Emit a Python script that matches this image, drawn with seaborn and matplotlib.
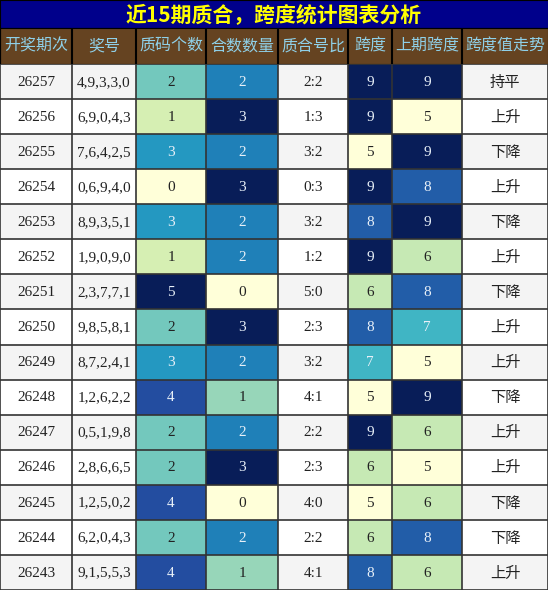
import numpy as np
import pandas as pd
import matplotlib
matplotlib.use("Agg")
import matplotlib.pyplot as plt
import seaborn as sns

# data
title = "近15期质合，跨度统计图表分析"
headers = ["开奖期次", "奖号", "质码个数", "合数数量", "质合号比", "跨度", "上期跨度", "跨度值走势"]
periods = [26257, 26256, 26255, 26254, 26253, 26252, 26251, 26250, 26249, 26248, 26247, 26246, 26245, 26244, 26243]
numbers = ["4,9,3,3,0", "6,9,0,4,3", "7,6,4,2,5", "0,6,9,4,0", "8,9,3,5,1", "1,9,0,9,0", "2,3,7,7,1",
           "9,8,5,8,1", "8,7,2,4,1", "1,2,6,2,2", "0,5,1,9,8", "2,8,6,6,5", "1,2,5,0,2", "6,2,0,4,3", "9,1,5,5,3"]
prime_cnt = [2, 1, 3, 0, 3, 1, 5, 2, 3, 4, 2, 2, 4, 2, 4]
comp_cnt = [2, 3, 2, 3, 2, 2, 0, 3, 2, 1, 2, 3, 0, 2, 1]
span = [9, 9, 5, 9, 8, 9, 6, 8, 7, 5, 9, 6, 5, 6, 8]
prev_span = [9, 5, 9, 8, 9, 6, 8, 7, 5, 9, 6, 5, 6, 8, 6]
trend = ["持平", "上升", "下降", "上升", "下降", "上升", "下降", "上升", "上升", "下降", "上升", "上升", "下降", "下降", "上升"]

edges = [0, 72, 136, 206, 278, 348, 392, 462, 548]
widths = np.diff(edges)
n = len(periods)

df = pd.DataFrame({"期次": periods, "奖号": numbers, "质码": prime_cnt, "合数": comp_cnt,
                   "跨度": span, "上期": prev_span, "走势": trend})
ratio = [f"{p}:{c}" for p, c in zip(prime_cnt, comp_cnt)]

def norm(col):
    v = np.array(col, float)
    return (v - v.min()) / (v.max() - v.min())

colored = {2: norm(prime_cnt), 3: norm(comp_cnt), 5: norm(span), 6: norm(prev_span)}

# expanded matrix: one column per pixel so cell widths follow the original
grid = np.full((n, edges[-1]), np.nan)
for c, vals in colored.items():
    grid[:, edges[c]:edges[c + 1]] = vals[:, None]

plt.rcParams['font.family'] = ['Liberation Serif', 'Noto Sans CJK SC']
fig = plt.figure(figsize=(5.48, 5.90), dpi=100)
ax_t = fig.add_axes([0, 1 - 28 / 590, 1, 28 / 590])
ax_h = fig.add_axes([0, 1 - 64 / 590, 1, 36 / 590])
ax = fig.add_axes([0, 0, 1, 1 - 64 / 590])

ax_t.set_facecolor("#00008b")
ax_t.set_xticks([]); ax_t.set_yticks([])
ax_t.text(0.5, 0.45, title, color="#ffff00", fontsize=15, fontweight="bold", ha="center", va="center",
          family=['Noto Sans CJK SC'])

ax_h.set_xlim(0, edges[-1]); ax_h.set_ylim(0, 1)
ax_h.set_facecolor("#654321")
ax_h.set_xticks([]); ax_h.set_yticks([])
for i, h in enumerate(headers):
    ax_h.text((edges[i] + edges[i + 1]) / 2, 0.5, h, color="#8fd0e8", fontsize=11.5, ha="center", va="center",
              family=['Noto Sans CJK SC'])
    ax_h.axvline(edges[i], color="black", lw=1.5)

bg = np.array([[0.0 if r % 2 == 0 else 1.0] for r in range(n)]) * np.ones((1, edges[-1]))
ax.imshow(bg, cmap=matplotlib.colors.ListedColormap(["#f4f4f4", "#ffffff"]), aspect="auto",
          extent=[0, edges[-1], n, 0], interpolation="nearest")
sns.heatmap(grid, cmap="YlGnBu", vmin=0, vmax=1, cbar=False, ax=ax, xticklabels=False, yticklabels=False)
ax.set_xlim(0, edges[-1]); ax.set_ylim(n, 0)

for r in range(n):
    texts = [str(periods[r]), numbers[r], prime_cnt[r], comp_cnt[r], ratio[r], span[r], prev_span[r], trend[r]]
    for c, t in enumerate(texts):
        color = "#222222"
        if c in colored and colored[c][r] > 0.45:
            color = "#e8f0f8"
        fam = ['Noto Sans CJK SC'] if c == 7 else ['Liberation Serif']
        ax.text((edges[c] + edges[c + 1]) / 2, r + 0.52, str(t), ha="center", va="center",
                fontsize=11, color=color, family=fam)
for x in edges:
    ax.axvline(x, color="#333333", lw=1.2)
for y in range(n + 1):
    ax.axhline(y, color="#333333", lw=1.2)

fig.savefig("out.png", dpi=100)
